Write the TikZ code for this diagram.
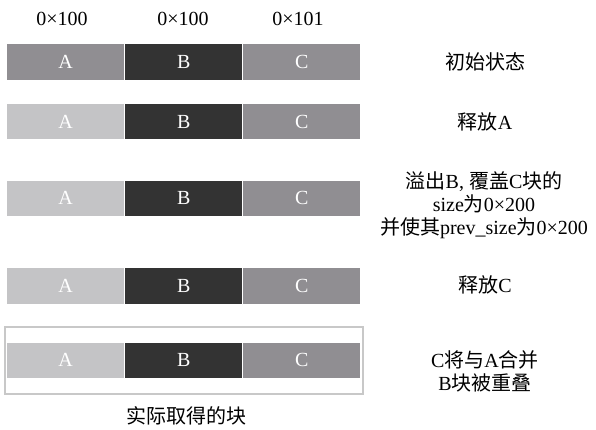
\documentclass[tikz,border=0pt]{standalone}
\usepackage{fontspec}
\setmainfont{Liberation Serif}
\newfontfamily\cjk{Noto Sans CJK SC}
\definecolor{segdark}{HTML}{333333}
\definecolor{segmid}{HTML}{908E92}
\definecolor{seglight}{HTML}{C4C4C6}
\definecolor{framegray}{HTML}{C8C8C8}
\tikzset{
  seg/.style={draw=white, line width=0.8pt, minimum width=118pt, minimum height=36.5pt,
    inner sep=0pt, text=white, font=\fontsize{20}{23}\selectfont},
  segA/.style={seg, fill=seglight},
  segAm/.style={seg, fill=segmid},
  segB/.style={seg, fill=segdark},
  segC/.style={seg, fill=segmid},
  lbl/.style={inner sep=0pt, align=center, text=black, font=\fontsize{20}{23}\selectfont},
  framebox/.style={draw=framegray, line width=2pt, minimum width=358pt, minimum height=67pt, inner sep=0pt}
}
\begin{document}
\begin{tikzpicture}[x=1pt,y=-1pt]
\useasboundingbox (0,0) rectangle (596,430);
% top labels
\node[lbl] (h1) at (62,18.5) {0×100};
\node[lbl] (h2) at (183,18.5) {0×100};
\node[lbl] (h3) at (298,18.5) {0×101};
% frame for last row
\node[framebox] (fr) at (184,360.5) {};
% row 1
\node[segAm] (a1) at (65.7,61.75) {A};
\node[segB]  (b1) at (183.7,61.75) {B};
\node[segC]  (c1) at (301.7,61.75) {C};
% row 2
\node[segA] (a2) at (65.7,121.5) {A};
\node[segB] (b2) at (183.7,121.5) {B};
\node[segC] (c2) at (301.7,121.5) {C};
% row 3
\node[segA] (a3) at (65.7,198.3) {A};
\node[segB] (b3) at (183.7,198.3) {B};
\node[segC] (c3) at (301.7,198.3) {C};
% row 4
\node[segA] (a4) at (65.7,286) {A};
\node[segB] (b4) at (183.7,286) {B};
\node[segC] (c4) at (301.7,286) {C};
% row 5
\node[segA] (a5) at (65.7,360.3) {A};
\node[segB] (b5) at (183.7,360.3) {B};
\node[segC] (c5) at (301.7,360.3) {C};
% right labels
\node[lbl] (r1) at (485,62) {{\cjk 初始状态}};
\node[lbl] (r2) at (485,122) {{\cjk 释放}A};
\node[lbl] (r3) at (484,205) {{\cjk 溢出}B, {\cjk 覆盖}C{\cjk 块的}\\size{\cjk 为}0×200\\{\cjk 并使其}prev\_size{\cjk 为}0×200};
\node[lbl] (r4) at (485,285) {{\cjk 释放}C};
\node[lbl] (r5) at (485,371.5) {C{\cjk 将与}A{\cjk 合并}\\B{\cjk 块被重叠}};
% bottom label
\node[lbl] (bot) at (186,416) {{\cjk 实际取得的块}};
\end{tikzpicture}
\end{document}
